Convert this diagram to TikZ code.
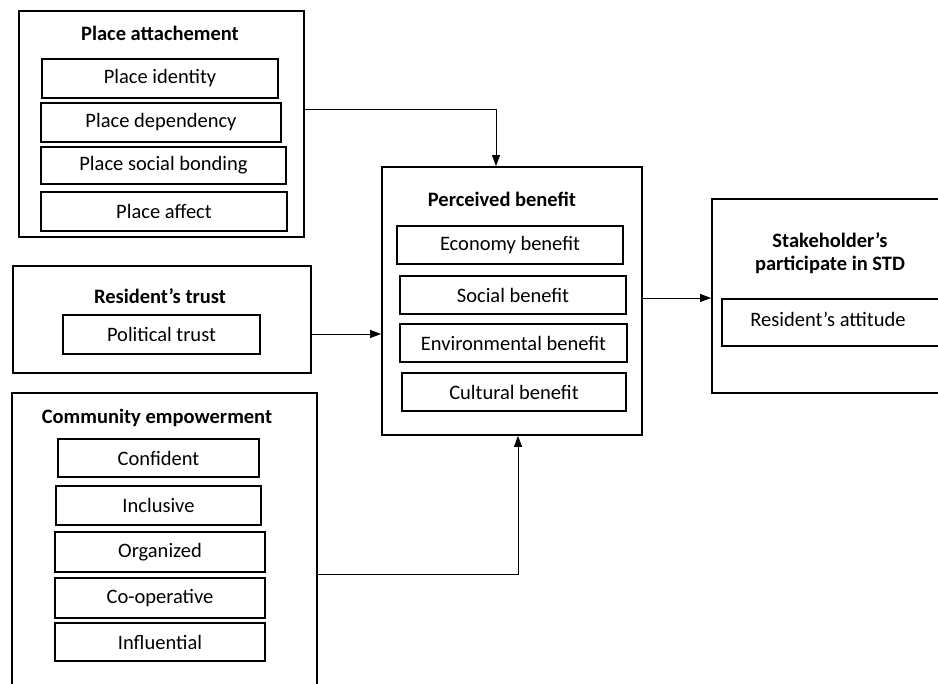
\documentclass[tikz,border=0pt]{standalone}
\usepackage{fontspec}
\setmainfont{Carlito}
\usetikzlibrary{arrows.meta}
\begin{document}
\begin{tikzpicture}[x=1pt,y=-1pt,
  every node/.style={font=\fontsize{20.5}{23}\selectfont},
  box/.style={draw, line width=1.8pt, inner sep=0pt, anchor=center},
  ttl/.style={font=\fontsize{20.5}{23}\selectfont\bfseries, inner sep=0pt, anchor=center},
  lbl/.style={inner sep=0pt, anchor=center},
  arr/.style={line width=0.9pt, -{Triangle[length=11pt,width=8pt]}}]
\useasboundingbox (0,0) rectangle (938,684);
\clip (0,0) rectangle (938,684);
% Place attachement
\node[box, minimum width=285pt, minimum height=226pt] (pa) at (161.5,124) {};
\node[ttl] (pat) at (160,33) {Place attachement};
\node[box, minimum width=236pt, minimum height=39pt] (pid) at (160,78.5) {Place identity};
\node[box, minimum width=240pt, minimum height=39pt] (pdep) at (161,122.5) {Place dependency};
\node[box, minimum width=245pt, minimum height=37pt] (psoc) at (163.5,165.5) {Place social bonding};
\node[box, minimum width=246pt, minimum height=39pt] (paff) at (164,211.5) {Place affect};
% Resident's trust
\node[box, minimum width=298pt, minimum height=107pt] (rt) at (162,319.5) {};
\node[ttl] (rtt) at (160,296) {Resident’s trust};
\node[box, minimum width=197pt, minimum height=39pt] (pol) at (161.5,334.5) {Political trust};
% Community empowerment
\node[box, minimum width=305pt, minimum height=307pt] (ce) at (164.5,546.5) {};
\node[ttl] (cet) at (157,418) {Community empowerment};
\node[box, minimum width=201pt, minimum height=38pt] (c1) at (158.5,458) {Confident};
\node[box, minimum width=205pt, minimum height=39pt] (c2) at (158.5,505.5) {Inclusive};
\node[box, minimum width=210pt, minimum height=40pt] (c3) at (160,552) {Organized};
\node[box, minimum width=210pt, minimum height=40pt] (c4) at (160,598) {Co-operative};
\node[box, minimum width=210pt, minimum height=38pt] (c5) at (160,642) {Influential};
% Perceived benefit
\node[box, minimum width=260pt, minimum height=268pt] (pb) at (512,301) {};
\node[ttl] (pbt) at (502,199) {Perceived benefit};
\node[box, minimum width=226pt, minimum height=38pt] (b1) at (510,245) {Economy benefit};
\node[box, minimum width=226pt, minimum height=38pt] (b2) at (513,295) {Social benefit};
\node[box, minimum width=227pt, minimum height=38pt] (b3) at (513.5,343) {Environmental benefit};
\node[box, minimum width=224pt, minimum height=38pt] (b4) at (514,392) {Cultural benefit};
% Stakeholder
\node[box, minimum width=248pt, minimum height=194pt] (sh) at (836,296) {};
\node[ttl, align=center] (sht) at (830,253.5) {Stakeholder’s\\participate in STD};
\node[box, minimum width=238pt, minimum height=47pt] (ra) at (841,322.5) {};
\node[lbl] (rat) at (828,319) {Resident’s attitude};
% connectors
\draw[arr] ([yshift=15pt]pa.east) -| ([xshift=-16pt]pb.north);
\draw[arr] ([yshift=-14.5pt]rt.east) -- ([yshift=-14.5pt]rt.east -| pb.west);
\draw[arr] ([yshift=-27.5pt]ce.east) -| ([xshift=6pt]pb.south);
\draw[arr] ([yshift=3pt]pb.east) -- ([yshift=3pt]pb.east -| sh.west);
\end{tikzpicture}
\end{document}
